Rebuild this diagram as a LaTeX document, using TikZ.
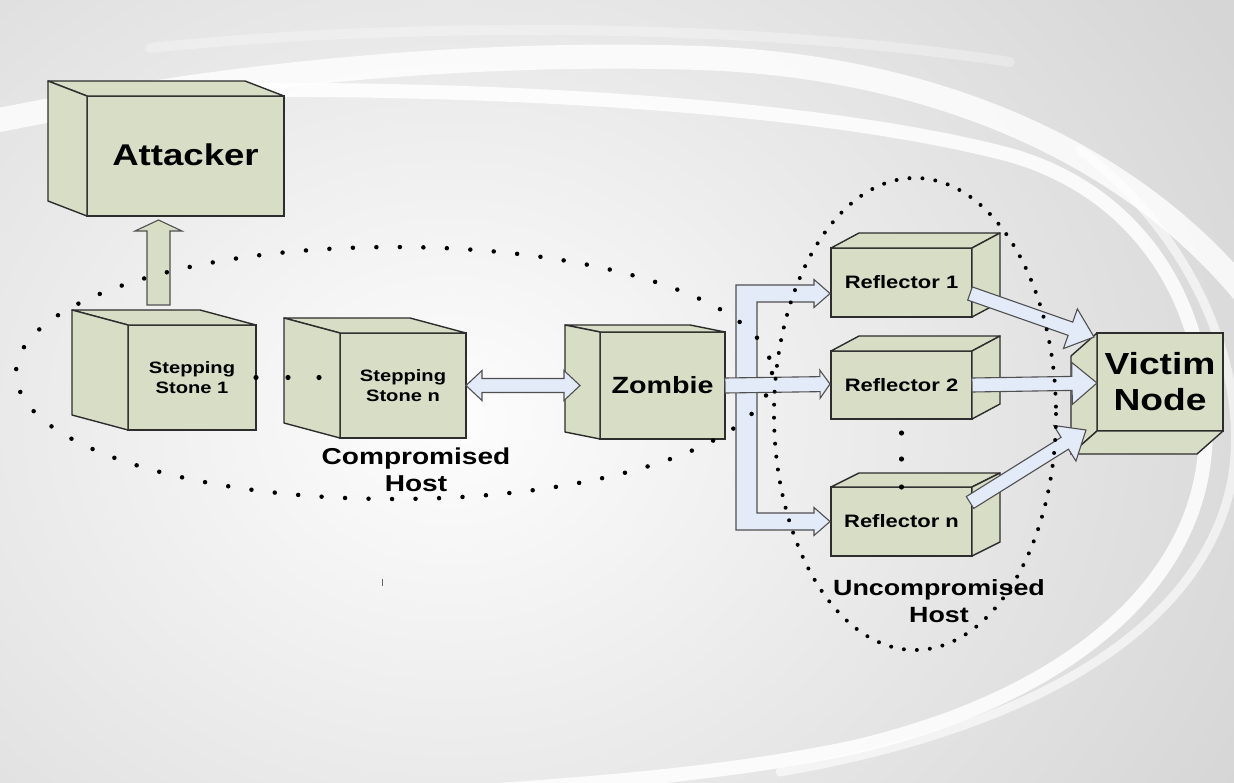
\documentclass[tikz,border=0pt]{standalone}
\usepackage{fontspec}
\setmainfont[FakeStretch=1.22]{Liberation Sans}
\usetikzlibrary{calc}

\definecolor{bgout}{RGB}{214,214,214}
\definecolor{bgin}{RGB}{253,253,253}
\definecolor{boxfill}{RGB}{216,222,198}
\definecolor{boxline}{RGB}{45,45,45}
\definecolor{arrfill}{RGB}{227,234,248}
\definecolor{arrline}{RGB}{80,80,80}

\tikzset{
  front/.style={draw=boxline, line width=1.4pt, fill=boxfill, inner sep=0pt,
    outer sep=0pt, align=center, font=\bfseries},
  face/.style={draw=boxline, line width=1.4pt, fill=boxfill, line join=round},
  fat/.style={draw=arrline, line width=1.1pt, fill=arrfill, line join=miter},
  fatgreen/.style={draw=arrline, line width=1.1pt, fill=boxfill, line join=miter},
  hostdots/.style={draw=black, line width=4.5pt, line cap=round,
    dash pattern=on 0pt off 23.5pt},
  hostdotsdense/.style={draw=black, line width=4pt, line cap=round,
    dash pattern=on 0pt off 13pt},
  gapdot/.style={fill=black},
  hostlabel/.style={align=center, inner sep=0pt, font=\bfseries},
  swoosh/.style={draw=white, line cap=round}
}

% depth towards the upper left: top and left faces
\newcommand{\facesUL}[3]{%
  \draw[face] (#1.north west) -- ++(#2,#3) -- ($(#1.north east)+(#2,#3)$) -- (#1.north east) -- cycle;
  \draw[face] (#1.north west) -- ++(#2,#3) -- ($(#1.south west)+(#2,#3)$) -- (#1.south west) -- cycle;}
% depth towards the upper right: top and right faces
\newcommand{\facesUR}[3]{%
  \draw[face] (#1.north west) -- ++(#2,#3) -- ($(#1.north east)+(#2,#3)$) -- (#1.north east) -- cycle;
  \draw[face] (#1.north east) -- ++(#2,#3) -- ($(#1.south east)+(#2,#3)$) -- (#1.south east) -- cycle;}
% depth towards the lower left: left and bottom faces
\newcommand{\facesDL}[3]{%
  \draw[face] (#1.north west) -- ++(#2,#3) -- ($(#1.south west)+(#2,#3)$) -- (#1.south west) -- cycle;
  \draw[face] (#1.south west) -- ++(#2,#3) -- ($(#1.south east)+(#2,#3)$) -- (#1.south east) -- cycle;}

% block arrow: [style]{from}{to}{shaft half width}{head half width}{head length}
\newcommand{\fatarrow}[6][fat]{%
  \coordinate (faS) at (#2);
  \coordinate (faE) at (#3);
  \coordinate (faH) at ($(faE)!#6!(faS)$);
  \draw[#1] ($(faS)!#4!90:(faE)$) -- ($(faH)!#4!-90:(faS)$) -- ($(faH)!#5!-90:(faS)$)
    -- (faE) -- ($(faH)!#5!90:(faS)$) -- ($(faH)!#4!90:(faS)$) -- ($(faS)!#4!-90:(faE)$) -- cycle;}

% block arrow with a head at both ends
\newcommand{\dblarrow}[6][fat]{%
  \coordinate (daS) at (#2);
  \coordinate (daE) at (#3);
  \coordinate (daH) at ($(daE)!#6!(daS)$);
  \coordinate (daT) at ($(daS)!#6!(daE)$);
  \draw[#1] (daS) -- ($(daT)!#5!-90:(daE)$) -- ($(daT)!#4!-90:(daE)$) -- ($(daH)!#4!90:(daS)$)
    -- ($(daH)!#5!90:(daS)$) -- (daE) -- ($(daH)!#5!-90:(daS)$) -- ($(daH)!#4!-90:(daS)$)
    -- ($(daT)!#4!90:(daE)$) -- ($(daT)!#5!90:(daE)$) -- cycle;}

\begin{document}
\begin{tikzpicture}[x=1pt, y=-1pt]
\useasboundingbox (0,0) rectangle (1234,782);

% ---------- background ----------
\begin{scope}
  \clip (0,0) rectangle (1234,782);
  \fill[bgout] (0,0) rectangle (1234,782);
  \shade[inner color=bgin, outer color=bgout] (-450,-330) rectangle (1350,1170);
  \draw[swoosh, line width=10pt, opacity=0.3] (150,48) .. controls (400,22) and (750,22) .. (1010,62);
  \draw[swoosh, line width=24pt, opacity=0.8] (-20,124) .. controls (200,78) and (450,50) .. (700,58)
    .. controls (930,66) and (1130,150) .. (1250,300);
  \draw[swoosh, line width=14pt, opacity=0.85] (230,90) .. controls (500,88) and (820,105) .. (1010,155)
    .. controls (1150,195) and (1215,320) .. (1205,450) .. controls (1195,590) and (1060,700) .. (850,748)
    .. controls (720,775) and (580,785) .. (420,795);
  \draw[swoosh, line width=9pt, opacity=0.6] (1080,150) .. controls (1200,240) and (1250,380) .. (1232,480)
    .. controls (1205,620) and (1050,725) .. (780,772);
\end{scope}

% ---------- boxes ----------
\node[front, minimum width=197, minimum height=120, font=\bfseries\fontsize{30}{36}\selectfont]
  (attacker) at (185.5,156) {\raisebox{3pt}{Attacker}};
\facesUL{attacker}{-39}{-15}

\node[front, minimum width=128, minimum height=105, font=\bfseries\fontsize{16.5}{20}\selectfont]
  (stone1) at (192,377.5) {Stepping\\Stone 1};
\facesUL{stone1}{-56}{-15}

\node[front, minimum width=126, minimum height=105, font=\bfseries\fontsize{16.5}{20}\selectfont]
  (stonen) at (403,385.5) {Stepping\\Stone n};
\facesUL{stonen}{-56}{-15}

\node[front, minimum width=125, minimum height=107, font=\bfseries\fontsize{23.5}{28}\selectfont]
  (zombie) at (662.5,385.5) {Zombie};
\facesUL{zombie}{-35}{-7}

\node[front, minimum width=141, minimum height=69, font=\bfseries\fontsize{18}{22}\selectfont]
  (r1) at (901.5,282.5) {Reflector 1};
\facesUR{r1}{28}{-15}

\node[front, minimum width=141, minimum height=68, font=\bfseries\fontsize{18}{22}\selectfont]
  (r2) at (901.5,385) {Reflector 2};
\facesUR{r2}{28}{-15}

\node[front, minimum width=141, minimum height=69, font=\bfseries\fontsize{18}{22}\selectfont]
  (rn) at (901.5,521.5) {Reflector n};
\facesUR{rn}{28}{-14}

\node[front, minimum width=126, minimum height=98, font=\bfseries\fontsize{30.5}{36}\selectfont]
  (victim) at (1160,382) {Victim\\Node};
\facesDL{victim}{-26}{23}

% ---------- connectors ----------
% stepping stone 1 up to the attacker
\fatarrow[fatgreen]{$(stone1.north)+(-33.5,-20)$}{$(attacker.south)+(-27,4)$}{11.5pt}{23.5pt}{11pt}

% stepping stone n <-> zombie
\dblarrow{stonen.east}{$(zombie.west)+(-20,0)$}{7pt}{15pt}{16pt}

% fork from the zombie side to reflector 1 and reflector n
\coordinate (fkT) at ($(r1.west)+(-1,11)$);
\coordinate (fkB) at ($(rn.west)+(-1,0)$);
\coordinate (fkX) at ($(zombie.east)+(11,0)$);
\draw[fat] ($(fkX |- fkT)+(0,-8.5)$) -- ($(fkT)+(-16,-8.5)$) -- ($(fkT)+(-16,-14)$) -- (fkT)
  -- ($(fkT)+(-16,14)$) -- ($(fkT)+(-16,8.5)$) -- ($(fkX |- fkT)+(21,8.5)$)
  -- ($(fkX |- fkB)+(21,-8.5)$) -- ($(fkB)+(-16,-8.5)$) -- ($(fkB)+(-16,-14)$) -- (fkB)
  -- ($(fkB)+(-16,14)$) -- ($(fkB)+(-16,8.5)$) -- ($(fkX |- fkB)+(0,8.5)$) -- cycle;

% zombie straight to reflector 2
\fatarrow{zombie.east}{$(r2.west)+(-1,-1)$}{7.5pt}{14pt}{10pt}

% reflectors to the victim
\fatarrow{$(r1.east)+(-2,11)$}{$(victim.north west)+(-3,4)$}{7pt}{21pt}{25pt}
\fatarrow{r2.east}{$(victim.west)+(0,1)$}{7pt}{21pt}{25pt}
\fatarrow{$(rn.east)+(-2,-19)$}{$(victim.south west)+(-11,-1)$}{7pt}{21pt}{25pt}

% ---------- dotted gaps ----------
\fill[gapdot] (stone1.east) circle (2.6);
\fill[gapdot] ($(stone1.east)+(32,0)$) circle (2.6);
\fill[gapdot] ($(stone1.east)+(63,0)$) circle (2.6);
\fill[gapdot] ($(r2.south)+(0,14)$) circle (2.6);
\fill[gapdot] ($(r2.south)+(0,40)$) circle (2.6);
\fill[gapdot] (rn.north) circle (2.6);

% ---------- host groups ----------
\draw[hostdots] (394,373) ellipse [x radius=378, y radius=126];
\draw[hostdotsdense] (915,414) ellipse [x radius=141, y radius=236];

\node[hostlabel, font=\bfseries\fontsize{23}{27}\selectfont] (comphost) at (416,470) {Compromised\\Host};
\node[hostlabel, font=\bfseries\fontsize{22}{27}\selectfont] (uncomphost) at (939,601.5) {Uncompromised\\Host};

% small stray tick
\draw[line width=0.9pt, black!60] (382,579) -- (382,586);
\end{tikzpicture}
\end{document}
